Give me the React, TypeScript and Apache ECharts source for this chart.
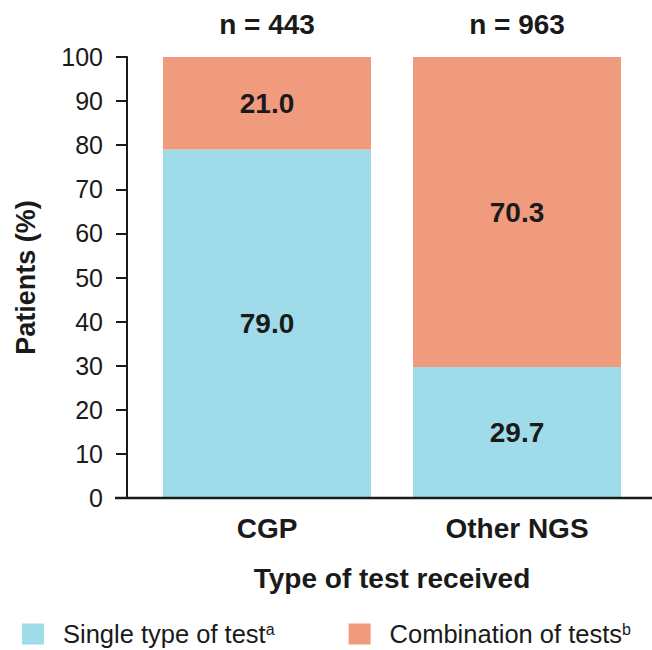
import React, { useEffect, useRef } from "react";
import * as echarts from "echarts";

const categories = ["CGP", "Other NGS"];
const topLabels = ["n = 443", "n = 963"];
const singleType = [79.0, 29.7];
const combination = [21.0, 70.3];
const seriesNames = ["Single type of test", "Combination of tests"];
const superscripts = ["a", "b"];

const FONT = "'Liberation Sans', Arial, Helvetica, sans-serif";
const DARK = "#1a1a1a";
const BOLD = 28;

export default function App() {
  const ref = useRef<HTMLDivElement>(null);
  useEffect(() => {
    if (!ref.current) return;
    const chart = echarts.init(ref.current, null, { renderer: "svg" });
    const labelStyle = {
      show: true,
      position: "inside",
      fontFamily: FONT,
      fontWeight: "bold",
      fontSize: BOLD,
      color: DARK,
      formatter: (p: any) => Number(p.value).toFixed(1),
    };
    chart.setOption({
      animation: false,
      textStyle: { fontFamily: FONT },
      grid: { left: 142, right: 10, top: 57, bottom: 152, containLabel: false },
      legend: {
        top: 621,
        left: 22,
        padding: 0,
        itemWidth: 22,
        itemHeight: 21,
        itemGap: 74,
        icon: "rect",
        data: seriesNames,
        formatter: (name: string) => {
          const i = seriesNames.indexOf(name);
          return `{n|${name}}{s|${superscripts[i]}}`;
        },
        textStyle: {
          color: DARK,
          lineHeight: 26,
          rich: {
            n: { fontFamily: FONT, fontSize: 25.5, lineHeight: 26, color: DARK, padding: [0, 0, 0, 14] },
            s: { fontFamily: FONT, fontSize: 16, lineHeight: 16, color: DARK, verticalAlign: "top", padding: [0, 0, 10, 0] },
          },
        },
      },
      xAxis: [
        {
          type: "category",
          data: categories,
          axisLine: { show: false },
          axisTick: { show: false },
          axisLabel: {
            fontFamily: FONT,
            fontWeight: "bold",
            fontSize: BOLD,
            color: DARK,
            margin: 16,
          },
          name: "Type of test received",
          nameLocation: "middle",
          nameGap: 66,
          nameTextStyle: { fontFamily: FONT, fontWeight: "bold", fontSize: BOLD, color: DARK },
        },
        {
          type: "category",
          position: "top",
          data: topLabels,
          axisLine: { show: false },
          axisTick: { show: false },
          axisLabel: {
            fontFamily: FONT,
            fontWeight: "bold",
            fontSize: BOLD,
            color: DARK,
            margin: 19,
          },
        },
      ],
      yAxis: {
        type: "value",
        min: 0,
        max: 100,
        interval: 10,
        offset: 15,
        splitLine: { show: false },
        axisLine: { show: true, lineStyle: { color: DARK, width: 2 } },
        axisTick: { show: true, length: 11, lineStyle: { color: DARK, width: 2 } },
        axisLabel: { fontFamily: FONT, fontSize: 25, color: DARK, margin: 24 },
        name: "Patients (%)",
        nameLocation: "middle",
        nameGap: 88,
        nameTextStyle: { fontFamily: FONT, fontWeight: "bold", fontSize: 27, color: DARK },
      },
      graphic: [
        {
          type: "line",
          shape: { x1: 115, y1: 498, x2: 652, y2: 498 },
          style: { stroke: DARK, lineWidth: 2.5 },
          z: 100,
        },
      ],
      series: [
        {
          name: seriesNames[0],
          type: "bar",
          stack: "total",
          barWidth: 208,
          data: singleType,
          itemStyle: { color: "#a0dbea" },
          label: labelStyle,
        },
        {
          name: seriesNames[1],
          type: "bar",
          stack: "total",
          barWidth: 208,
          data: combination,
          itemStyle: { color: "#f09b7d" },
          label: labelStyle,
        },
      ],
    });
    return () => chart.dispose();
  }, []);
  return (
    <div
      ref={ref}
      style={{ position: "fixed", left: 0, top: 0, width: 652, height: 650, background: "#fff" }}
    />
  );
}
